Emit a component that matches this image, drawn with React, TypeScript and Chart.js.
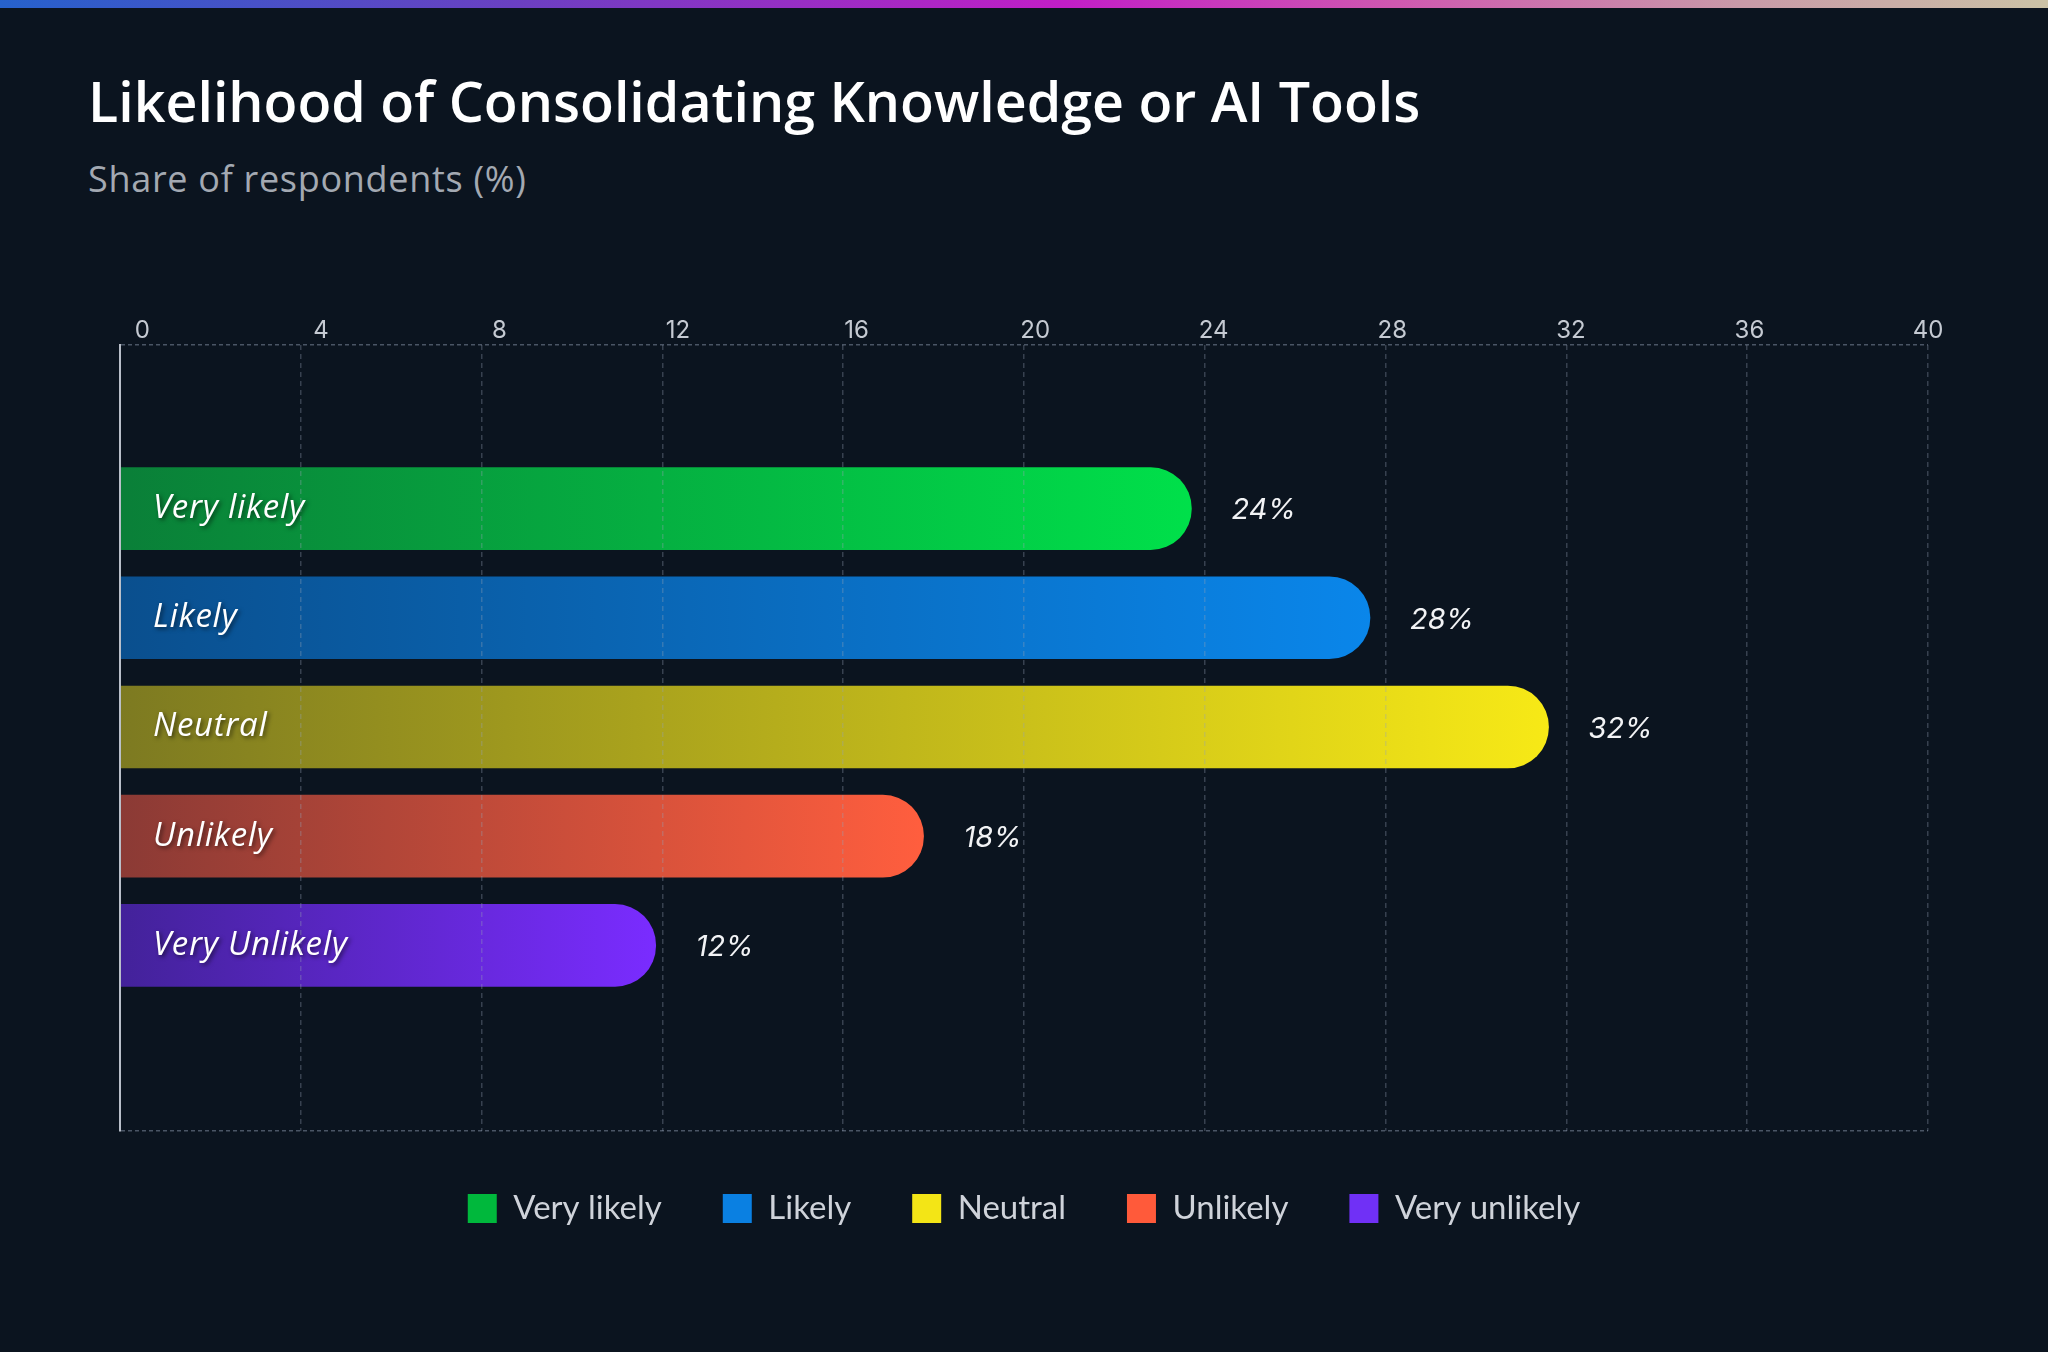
import { useEffect, useRef } from "react"
import { Chart, registerables } from "chart.js"

Chart.register(...registerables)

// Chart data
const categories = ["Very likely", "Likely", "Neutral", "Unlikely", "Very Unlikely"]
const legendNames = ["Very likely", "Likely", "Neutral", "Unlikely", "Very unlikely"]
const shares = [24, 28, 32, 18, 12]
const xTicks = [0, 4, 8, 12, 16, 20, 24, 28, 32, 36, 40]

// Palette (styles, kept apart from the data)
const startColors = ["#0a7f38", "#0a4f8e", "#7d7a21", "#8b3a35", "#43229a"]
const endColors = ["#00e04a", "#0a86ea", "#f7e916", "#ff5e3e", "#7a2cff"]
const legendColors = ["#00b83c", "#0a80e2", "#f3e516", "#ff5a3a", "#7030f6"]

const BG = "#0b141f"

const barTextPlugin = {
  id: "barText",
  afterDatasetsDraw(chart: any) {
    const { ctx } = chart
    const meta = chart.getDatasetMeta(0)
    ctx.save()
    ctx.textBaseline = "middle"
    ctx.textAlign = "left"
    meta.data.forEach((bar: any, i: number) => {
      const { x, y, base } = bar.getProps(["x", "y", "base"], true)
      ctx.font = 'italic 500 33px "Open Sans"'
      ctx.letterSpacing = "0.7px"
      ctx.shadowColor = "rgba(0, 0, 0, 0.55)"
      ctx.shadowOffsetX = 2
      ctx.shadowOffsetY = 2
      ctx.shadowBlur = 4
      ctx.fillStyle = "#ffffff"
      ctx.fillText(categories[i], base + 33, y)
      ctx.shadowColor = "transparent"
      ctx.letterSpacing = "0px"
      ctx.font = 'italic 400 29px "Inter"'
      ctx.fillStyle = "#f2f3f5"
      ctx.fillText(`${shares[i]}%`, x + 40, y + 2)
    })
    ctx.restore()
  },
}

const tickObjects = () => xTicks.map((v) => ({ value: v }))

export default function App() {
  const chartRef = useRef<HTMLCanvasElement>(null)
  const chartInstance = useRef<Chart | null>(null)

  useEffect(() => {
    if (!chartRef.current) return
    if (chartInstance.current) chartInstance.current.destroy()

    const ctx = chartRef.current.getContext("2d")
    if (!ctx) return

    chartInstance.current = new Chart(ctx, {
      type: "bar",
      data: {
        datasets: [
          {
            data: shares.map((v, i) => ({ x: v, y: i })),
            backgroundColor: (c: any) => {
              const { chart, dataIndex } = c
              const area = chart.chartArea
              if (!area || dataIndex === undefined) return endColors[0]
              const x1 = chart.scales.x.getPixelForValue(shares[dataIndex])
              const g = chart.ctx.createLinearGradient(area.left, 0, x1, 0)
              g.addColorStop(0, startColors[dataIndex])
              g.addColorStop(1, endColors[dataIndex])
              return g
            },
            borderWidth: 0,
            borderSkipped: "start",
            borderRadius: { topRight: 41, bottomRight: 41, topLeft: 0, bottomLeft: 0 },
            barThickness: 82,
          } as any,
        ],
      },
      options: {
        indexAxis: "y",
        animation: false,
        responsive: true,
        maintainAspectRatio: false,
        layout: { padding: { left: 120, right: 120, top: 316, bottom: 117 } },
        scales: {
          x: { type: "linear", position: "top", min: 0, max: 40.5, display: false },
          xGrid: {
            type: "linear",
            position: "top",
            min: 0,
            max: 40,
            afterBuildTicks: (s: any) => {
              s.ticks = tickObjects()
            },
            ticks: { display: false },
            grid: { color: "rgba(150, 162, 180, 0.32)", lineWidth: 1.5, drawTicks: false, z: 1 },
            border: { display: false, dash: [5, 4] },
          },
          xLabels: {
            type: "linear",
            position: "top",
            min: -0.5,
            max: 40,
            afterBuildTicks: (s: any) => {
              s.ticks = tickObjects()
            },
            ticks: {
              color: "#c5cad2",
              font: { family: "Inter", size: 24 },
              padding: 0,
              maxRotation: 0,
              autoSkip: false,
            },
            grid: { display: false, drawTicks: false },
            border: { display: false },
          },
          y: {
            type: "linear",
            reverse: true,
            offset: false,
            min: -1.5,
            max: 5.7,
            afterBuildTicks: (s: any) => {
              s.ticks = [{ value: -1.5 }, { value: 5.7 }]
            },
            ticks: { display: false },
            grid: { color: "#4a5565", lineWidth: 1.5, drawTicks: false, offset: false },
            border: { color: "#b9bfc9", width: 2, dash: [4, 3], z: 1 },
          },
        } as any,
        plugins: {
          legend: {
            position: "bottom",
            onClick: () => {},
            labels: {
              boxWidth: 29,
              boxHeight: 29,
              padding: 61,
              color: "#cfd3da",
              font: { family: "Lato", size: 33 },
              generateLabels: () =>
                legendNames.map((t, i) => ({
                  text: t,
                  fillStyle: legendColors[i],
                  strokeStyle: legendColors[i],
                  lineWidth: 0,
                  fontColor: "#cfd3da",
                  hidden: false,
                  index: i,
                  datasetIndex: 0,
                })),
            },
          },
          tooltip: { enabled: false },
        },
      },
      plugins: [barTextPlugin],
    })

    return () => {
      if (chartInstance.current) {
        chartInstance.current.destroy()
        chartInstance.current = null
      }
    }
  }, [])

  return (
    <div style={{ position: "fixed", inset: 0, background: BG, overflow: "hidden" }}>
      <div
        style={{
          position: "absolute",
          left: 0,
          top: 0,
          right: 0,
          height: 8,
          background:
            "linear-gradient(90deg, #2662cc 0%, #6a40c2 25%, #c21ec6 52%, #cf58b0 68%, #c99aa8 85%, #cbc2a6 100%)",
        }}
      />
      <div
        style={{
          position: "absolute",
          left: 88,
          top: 73,
          font: '600 55.5px "Open Sans"',
          lineHeight: 1,
          color: "#ffffff",
          whiteSpace: "nowrap",
          fontVariantLigatures: "none",
        }}
      >
        Likelihood of Consolidating Knowledge or AI Tools
      </div>
      <div
        style={{
          position: "absolute",
          left: 88,
          top: 161,
          font: '400 36px "Open Sans"',
          letterSpacing: "0.7px",
          lineHeight: 1,
          color: "#a3a9b2",
          whiteSpace: "nowrap",
        }}
      >
        Share of respondents (%)
      </div>
      <div style={{ position: "absolute", inset: 0 }}>
        <canvas ref={chartRef}></canvas>
      </div>
    </div>
  )
}
